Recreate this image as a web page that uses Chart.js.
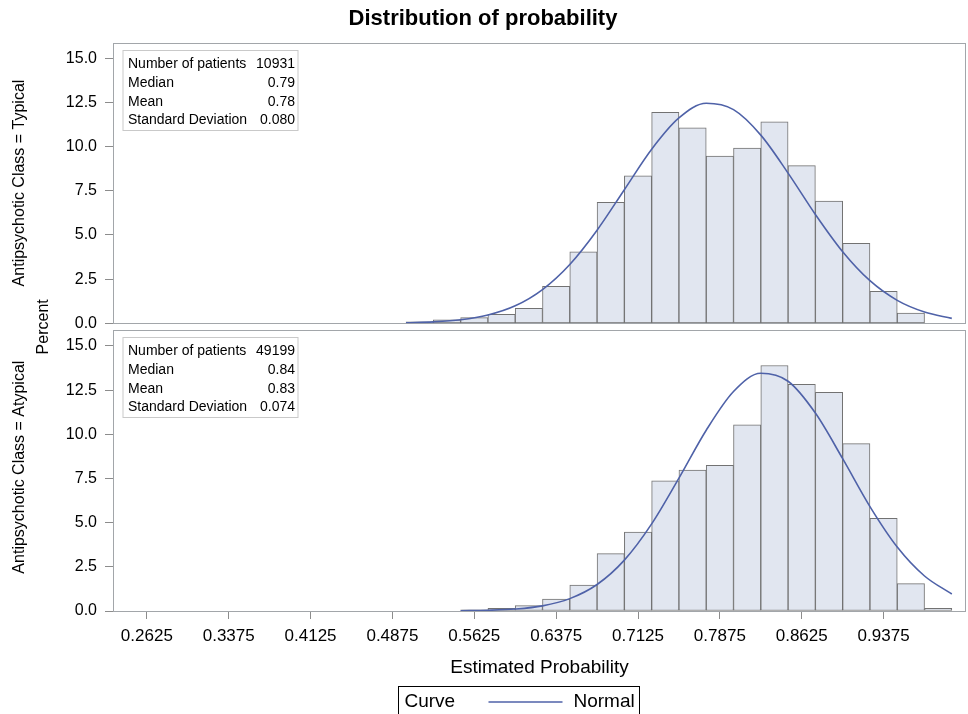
<!DOCTYPE html>
<html>
<head>
<meta charset="utf-8">
<title>Distribution of probability</title>
<script src="https://cdn.jsdelivr.net/npm/chart.js@4.4.1/dist/chart.umd.min.js"></script>
<style>
  html, body { margin: 0; padding: 0; background: #fff; }
  #wrap { position: relative; width: 968px; height: 714px; overflow: hidden; }
</style>
</head>
<body>
<div id="wrap"><canvas id="chart" width="968" height="714"></canvas></div>
<script>
// Histogram bin midpoints (bin width 0.025) and percent of patients per bin
const typicalBins = [0.5125, 0.5375, 0.5625, 0.5875, 0.6125, 0.6375, 0.6625, 0.6875, 0.7125, 0.7375,
                     0.7625, 0.7875, 0.8125, 0.8375, 0.8625, 0.8875, 0.9125, 0.9375, 0.9625];
const typicalPercent = [0.09, 0.19, 0.32, 0.51, 0.85, 2.09, 4.04, 6.85, 8.34, 11.94,
                        11.06, 9.47, 9.91, 11.40, 8.92, 6.92, 4.53, 1.81, 0.58];

const atypicalBins = [0.5625, 0.5875, 0.6125, 0.6375, 0.6625, 0.6875, 0.7125, 0.7375, 0.7625,
                      0.7875, 0.8125, 0.8375, 0.8625, 0.8875, 0.9125, 0.9375, 0.9625, 0.9875];
const atypicalPercent = [0.06, 0.15, 0.30, 0.68, 1.47, 3.25, 4.47, 7.36, 7.98,
                         8.25, 10.53, 13.89, 12.83, 12.38, 9.47, 5.25, 1.55, 0.15];

// Fitted normal curves, sampled along the probability axis
const typicalCurveX = [0.500, 0.525, 0.550, 0.575, 0.600, 0.625, 0.650, 0.675, 0.700, 0.725, 0.750,
                       0.775, 0.800, 0.825, 0.850, 0.875, 0.900, 0.925, 0.950, 0.975, 1.000];
const typicalCurveY = [0.03, 0.08, 0.20, 0.47, 0.99, 1.91, 3.33, 5.27, 7.56, 9.85, 11.62,
                       12.45, 12.09, 10.65, 8.50, 6.16, 4.05, 2.41, 1.30, 0.64, 0.28];

const atypicalCurveX = [0.550, 0.575, 0.600, 0.625, 0.650, 0.675, 0.700, 0.725, 0.750, 0.775,
                        0.800, 0.825, 0.850, 0.875, 0.900, 0.925, 0.950, 0.975, 1.000];
const atypicalCurveY = [0.01, 0.04, 0.11, 0.29, 0.70, 1.50, 2.88, 4.93, 7.52, 10.23,
                        12.42, 13.45, 13.00, 11.20, 8.62, 5.91, 3.62, 1.98, 0.96];

// Axis ticks
const xTickValues = [0.2625, 0.3375, 0.4125, 0.4875, 0.5625, 0.6375, 0.7125, 0.7875, 0.8625, 0.9375];
const yTickValues = [0, 2.5, 5, 7.5, 10, 12.5, 15];

// Summary statistics shown in each panel
const typicalStats = [["Number of patients", "10931"], ["Median", "0.79"], ["Mean", "0.78"], ["Standard Deviation", "0.080"]];
const atypicalStats = [["Number of patients", "49199"], ["Median", "0.84"], ["Mean", "0.83"], ["Standard Deviation", "0.074"]];

const FONT = '"Liberation Sans", Arial, Helvetica, sans-serif';
Chart.defaults.font.family = FONT;
Chart.defaults.color = '#000';

const BAR_FILL = 'rgb(225, 230, 240)';
const BAR_EDGE = '#727272';
const CURVE = '#4f62a8';
const FRAME = '#a2a6aa';
const PANEL_MAX = 15.88;   // upper limit of each panel's percent axis

const pts = (xs, ys) => xs.map((x, i) => ({ x: x, y: ys[i] }));

// Panel frames, inset statistics tables, shared "Percent" label and the curve legend
const panelDecor = {
  id: 'panelDecor',
  beforeDatasetsDraw(chart) {
    const { ctx, chartArea, scales } = chart;
    const panels = [[scales.yTop, typicalStats], [scales.yBot, atypicalStats]];
    ctx.save();
    for (const [ys, stats] of panels) {
      const top = Math.round(ys.getPixelForValue(PANEL_MAX)) + 0.5;
      const bottom = Math.round(ys.getPixelForValue(0)) + 0.5;
      const left = Math.round(chartArea.left) + 0.5;
      const right = Math.round(chartArea.right) - 0.5;
      ctx.strokeStyle = FRAME;
      ctx.lineWidth = 1;
      ctx.strokeRect(left, top, right - left, bottom - top);

      const bx = left + 9.5, by = top + 7, bw = 175, bh = 80;
      ctx.strokeStyle = '#c9c9c9';
      ctx.strokeRect(bx, by, bw, bh);
      ctx.font = '14px ' + FONT;
      ctx.fillStyle = '#000';
      ctx.textBaseline = 'middle';
      stats.forEach(([label, value], i) => {
        const y = top + 21 + i * 18.6;
        ctx.textAlign = 'left';
        ctx.fillText(label, bx + 5, y);
        ctx.textAlign = 'right';
        ctx.fillText(value, bx + bw - 3, y);
      });
    }
    ctx.restore();
  },
  afterDraw(chart) {
    const { ctx, chartArea } = chart;
    ctx.save();
    // shared y-axis label spanning both panels
    ctx.font = '16px ' + FONT;
    ctx.fillStyle = '#000';
    ctx.textAlign = 'center';
    ctx.textBaseline = 'middle';
    ctx.translate(44, (chartArea.top + chartArea.bottom) / 2);
    ctx.rotate(-Math.PI / 2);
    ctx.fillText('Percent', 0, 0);
    ctx.restore();

    // legend box: "Curve ——— Normal"
    ctx.save();
    const lx = 398.5, ly = 686.5, lw = 241, cy = 702;
    ctx.strokeStyle = '#000';
    ctx.lineWidth = 1;
    ctx.strokeRect(lx, ly, lw, 40);
    ctx.font = '19px ' + FONT;
    ctx.fillStyle = '#000';
    ctx.textBaseline = 'middle';
    ctx.textAlign = 'left';
    ctx.fillText('Curve', lx + 6, cy);
    ctx.strokeStyle = CURVE;
    ctx.lineWidth = 1.5;
    ctx.beginPath();
    ctx.moveTo(lx + 90, cy);
    ctx.lineTo(lx + 164, cy);
    ctx.stroke();
    ctx.fillText('Normal', lx + 175, cy);
    ctx.restore();
  }
};

const barStyle = {
  type: 'bar',
  backgroundColor: BAR_FILL,
  borderColor: BAR_EDGE,
  borderWidth: 1,
  borderSkipped: false,
  grouped: false,
  barPercentage: 1,
  categoryPercentage: 1
};
const curveStyle = {
  type: 'line',
  borderColor: CURVE,
  borderWidth: 1.6,
  pointRadius: 0,
  fill: false,
  cubicInterpolationMode: 'monotone'
};

const yAxis = (title, max, weight) => ({
  type: 'linear',
  position: 'left',
  stack: 'panels',
  stackWeight: weight,
  min: 0,
  max: max,
  afterBuildTicks: (s) => { s.ticks = yTickValues.map(v => ({ value: v })); },
  afterFit: (s) => { s.width = 113; },
  ticks: {
    font: { size: 16 },
    padding: 8,
    callback: (v) => Number(v).toFixed(1)
  },
  grid: { drawOnChartArea: false, tickLength: 8, color: '#8c8c8c' },
  border: { display: false },
  title: {
    display: true,
    text: title,
    font: { size: 16 },
    padding: { top: 10.4, bottom: 0 }
  }
});

new Chart(document.getElementById('chart'), {
  type: 'bar',
  data: {
    datasets: [
      Object.assign({ label: 'Typical', data: pts(typicalBins, typicalPercent), yAxisID: 'yTop', order: 2 }, barStyle),
      Object.assign({ label: 'Atypical', data: pts(atypicalBins, atypicalPercent), yAxisID: 'yBot', order: 2 }, barStyle),
      Object.assign({ label: 'Normal', data: pts(typicalCurveX, typicalCurveY), yAxisID: 'yTop', order: 1 }, curveStyle),
      Object.assign({ label: 'Normal ', data: pts(atypicalCurveX, atypicalCurveY), yAxisID: 'yBot', order: 1 }, curveStyle)
    ]
  },
  options: {
    responsive: false,
    animation: false,
    events: [],
    layout: { padding: { left: 0, right: 2, top: 0, bottom: 30 } },
    plugins: {
      legend: { display: false },
      tooltip: { enabled: false },
      title: {
        display: true,
        text: 'Distribution of probability',
        font: { size: 22, weight: 'bold' },
        color: '#000',
        padding: { top: 6, bottom: 10.3 }
      }
    },
    scales: {
      x: {
        type: 'linear',
        position: 'bottom',
        min: 0.2315,
        max: 1.013,
        offset: false,
        afterBuildTicks: (s) => { s.ticks = xTickValues.map(v => ({ value: v })); },
        afterFit: (s) => { s.height = 73; },
        ticks: {
          font: { size: 17 },
          padding: 7,
          maxRotation: 0,
          autoSkip: false,
          callback: (v) => Number(v).toFixed(4)
        },
        grid: { drawOnChartArea: false, tickLength: 8, color: '#8c8c8c', offset: false },
        border: { display: false },
        title: {
          display: true,
          text: 'Estimated Probability',
          font: { size: 19 },
          padding: { top: 0, bottom: 5 }
        }
      },
      // stacked panel axes: the later entry is laid out on top
      yBot: yAxis('Antipsychotic Class = Atypical', 16.28, 287.7),
      yTop: yAxis('Antipsychotic Class = Typical', PANEL_MAX, 280.6)
    }
  },
  plugins: [panelDecor]
});
</script>
</body>
</html>
